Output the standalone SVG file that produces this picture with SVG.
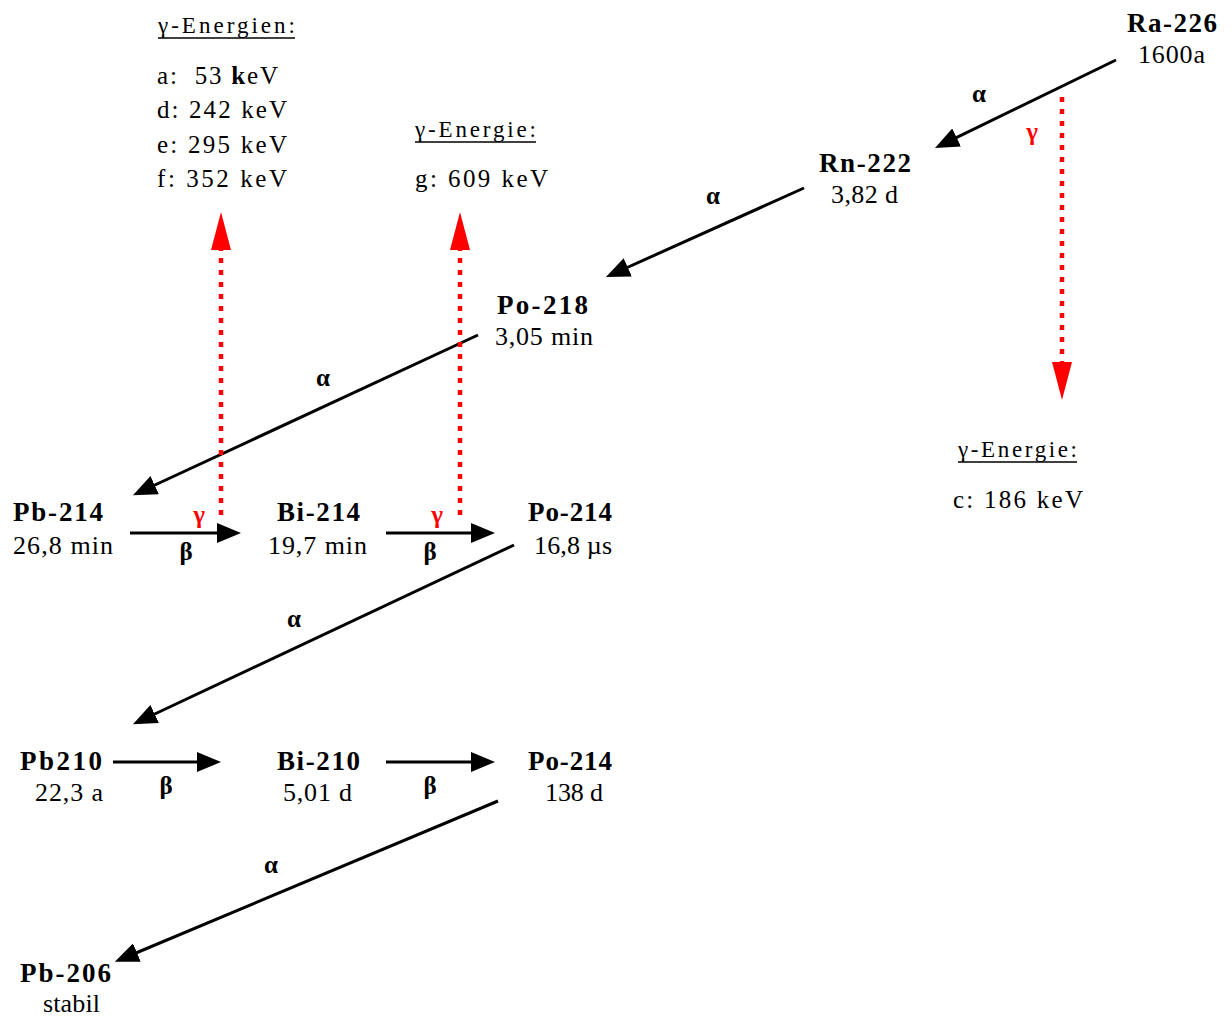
<svg xmlns="http://www.w3.org/2000/svg" width="1232" height="1016" viewBox="0 0 1232 1016">
<style>
text{font-family:"Liberation Serif","Times New Roman",serif;fill:#000}
.n{font-size:27px;font-weight:bold}
.t{font-size:26px}
.h{font-size:23px}
.e{font-size:25px}
.g{font-size:25px;font-weight:bold}
.r{font-size:25px;font-weight:bold;fill:#f00}
.ul{stroke:#000;stroke-width:1.3}
.a{stroke:#000;stroke-width:3;fill:none;marker-end:url(#ah)}
.d{stroke:#f00;stroke-width:4.5;stroke-dasharray:5 7;fill:none;marker-end:url(#rh)}
</style>
<defs>
<marker id="ah" viewBox="0 0 24 20" refX="14" refY="10" markerWidth="24" markerHeight="20" markerUnits="userSpaceOnUse" orient="auto"><path d="M0,0 L24,10 L0,20 z" fill="#000"/></marker>
<marker id="rh" viewBox="0 0 38 20" refX="28" refY="10" markerWidth="38" markerHeight="20" markerUnits="userSpaceOnUse" orient="auto"><path d="M0,0 L38,10 L0,20 z" fill="#f00"/></marker>
</defs>
<rect width="1232" height="1016" fill="#fff"/>

<g id="connectors">
<line class="a" x1="1116" y1="60" x2="944" y2="143.6"/>
<line class="a" x1="804" y1="188" x2="615" y2="273"/>
<line class="a" x1="478" y1="335" x2="142" y2="491"/>
<line class="a" x1="514" y1="545" x2="142" y2="720"/>
<line class="a" x1="498" y1="801" x2="124" y2="958"/>
<line class="a" x1="130" y1="533" x2="231" y2="533"/>
<line class="a" x1="386" y1="533" x2="485" y2="533"/>
<line class="a" x1="113" y1="762" x2="211" y2="762"/>
<line class="a" x1="386" y1="762" x2="485" y2="762"/>
<line class="d" x1="221" y1="515" x2="221" y2="222"/>
<line class="d" x1="460" y1="515" x2="460" y2="222"/>
<line class="d" x1="1062" y1="97" x2="1062" y2="390"/>
<text class="g" x="979" y="102" text-anchor="middle">α</text>
<text class="g" x="713" y="204" text-anchor="middle">α</text>
<text class="g" x="323" y="386" text-anchor="middle">α</text>
<text class="g" x="294" y="627" text-anchor="middle">α</text>
<text class="g" x="271" y="873" text-anchor="middle">α</text>
<text class="g" x="186" y="560" text-anchor="middle">β</text>
<text class="g" x="430" y="560" text-anchor="middle">β</text>
<text class="g" x="166" y="794" text-anchor="middle">β</text>
<text class="g" x="430" y="794" text-anchor="middle">β</text>
<text class="r" x="1032" y="140" text-anchor="middle">γ</text>
<text class="r" x="199" y="523" text-anchor="middle">γ</text>
<text class="r" x="437" y="523" text-anchor="middle">γ</text>
</g>

<g id="energies-left">
<text class="h" x="158" y="33" textLength="137" lengthAdjust="spacing">γ-Energien:</text>
<line class="ul" x1="158" y1="38" x2="295" y2="38"/>
<text class="e" x="157" y="84" textLength="121" lengthAdjust="spacing">a:&#160; 53 <tspan font-weight="bold">k</tspan>eV</text>
<text class="e" x="157" y="118" textLength="130" lengthAdjust="spacing">d: 242 keV</text>
<text class="e" x="157" y="153" textLength="130" lengthAdjust="spacing">e: 295 keV</text>
<text class="e" x="157" y="187" textLength="130" lengthAdjust="spacing">f: 352 keV</text>
</g>
<g id="energies-mid">
<text class="h" x="415" y="137" textLength="121" lengthAdjust="spacing">γ-Energie:</text>
<line class="ul" x1="415" y1="142" x2="536" y2="142"/>
<text class="e" x="415" y="187" textLength="133" lengthAdjust="spacing">g: 609 keV</text>
</g>
<g id="energies-right">
<text class="h" x="958" y="457" textLength="119" lengthAdjust="spacing">γ-Energie:</text>
<line class="ul" x1="958" y1="462" x2="1077" y2="462"/>
<text class="e" x="953" y="508" textLength="130" lengthAdjust="spacing">c: 186 keV</text>
</g>

<g id="ra226"><text class="n" x="1127" y="32" textLength="90" lengthAdjust="spacing">Ra-226</text><text class="t" x="1138" y="63" textLength="67" lengthAdjust="spacing">1600a</text></g>
<g id="rn222"><text class="n" x="819" y="172" textLength="92" lengthAdjust="spacing">Rn-222</text><text class="t" x="831" y="203" textLength="67" lengthAdjust="spacing">3,82 d</text></g>
<g id="po218"><text class="n" x="497" y="314" textLength="91" lengthAdjust="spacing">Po-218</text><text class="t" x="495" y="345" textLength="98" lengthAdjust="spacing">3,05 min</text></g>
<g id="pb214"><text class="n" x="13" y="521" textLength="90" lengthAdjust="spacing">Pb-214</text><text class="t" x="13" y="554" textLength="100" lengthAdjust="spacing">26,8 min</text></g>
<g id="bi214"><text class="n" x="277" y="521" textLength="83" lengthAdjust="spacing">Bi-214</text><text class="t" x="268" y="554" textLength="99" lengthAdjust="spacing">19,7 min</text></g>
<g id="po214a"><text class="n" x="528" y="521" textLength="84" lengthAdjust="spacing">Po-214</text><text class="t" x="534" y="554" textLength="78" lengthAdjust="spacing">16,8 µs</text></g>
<g id="pb210"><text class="n" x="20" y="770" textLength="82" lengthAdjust="spacing">Pb210</text><text class="t" x="35" y="801" textLength="68" lengthAdjust="spacing">22,3 a</text></g>
<g id="bi210"><text class="n" x="277" y="770" textLength="83" lengthAdjust="spacing">Bi-210</text><text class="t" x="283" y="801" textLength="69" lengthAdjust="spacing">5,01 d</text></g>
<g id="po214b"><text class="n" x="528" y="770" textLength="84" lengthAdjust="spacing">Po-214</text><text class="t" x="545" y="801" textLength="58" lengthAdjust="spacing">138 d</text></g>
<g id="pb206"><text class="n" x="20" y="982" textLength="91" lengthAdjust="spacing">Pb-206</text><text class="t" x="43" y="1012" textLength="57" lengthAdjust="spacing">stabil</text></g>
</svg>
